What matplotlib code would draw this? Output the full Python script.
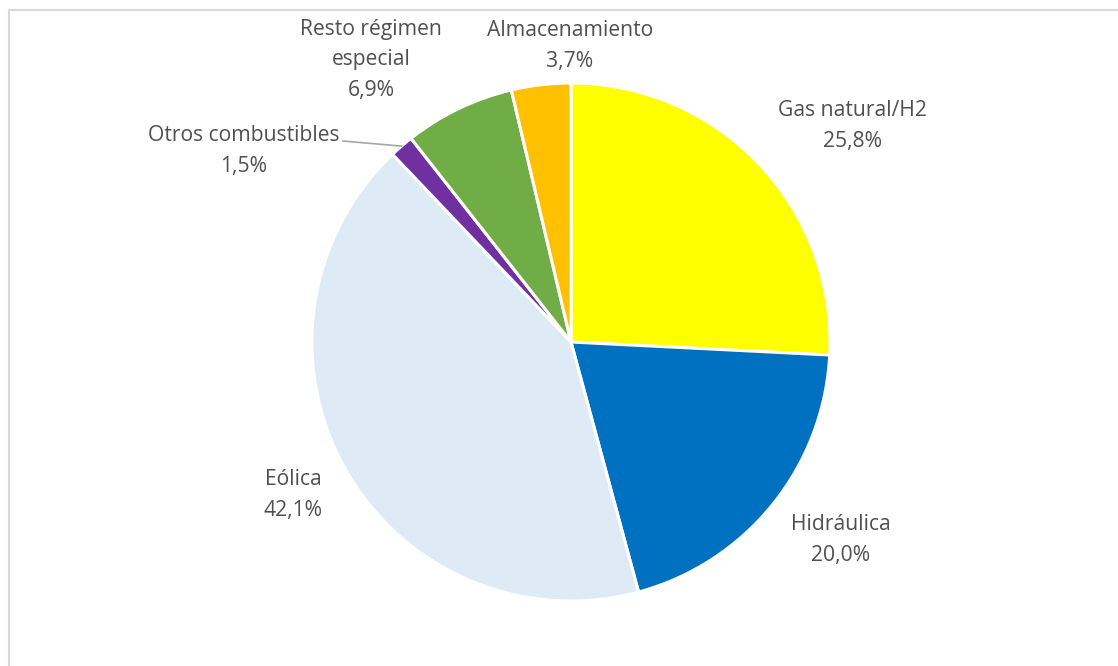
import numpy as np
import matplotlib
matplotlib.use("Agg")
import matplotlib.pyplot as plt

# Estructura de potencia instalada por tecnología (%)
tecnologias = ["Gas natural/H2", "Hidráulica", "Eólica", "Otros combustibles",
               "Resto régimen\nespecial", "Almacenamiento"]
porcentajes = [25.8, 20.0, 42.1, 1.5, 6.9, 3.7]
colores = ["#FFFF00", "#0070C0", "#DEEAF6", "#7030A0", "#70AD47", "#FFC000"]

# Posición de cada etiqueta (píxeles, origen arriba a la izquierda)
pos_etiquetas = [(852, 126), (841, 540), (293, 495), (244, 151), (371, 60), (570, 46)]

W, H = 1118, 666
fig = plt.figure(figsize=(W / 100, H / 100), dpi=100)
ax = fig.add_axes([0, 0, 1, 1])

cx, cy, r = 571, H - 342, 259
cuñas, _ = ax.pie(porcentajes, colors=colores, startangle=90, counterclock=False,
                  center=(cx, cy), radius=r,
                  wedgeprops=dict(edgecolor="white", linewidth=2.2))

for nombre, valor, (px, py) in zip(tecnologias, porcentajes, pos_etiquetas):
    texto = f"{nombre}\n{valor:.1f}%".replace(".", ",")
    ax.text(px, H - py, texto, ha="center", va="center", multialignment="center",
            fontsize=15.2, color="#505050", family="Open Sans", linespacing=1.62)

# Línea guía para "Otros combustibles"
w = cuñas[3]
ang = np.deg2rad((w.theta1 + w.theta2) / 2)
ax.plot([343, cx + r * np.cos(ang)], [H - 141, cy + r * np.sin(ang)],
        color="#A6A6A6", lw=1.2)

# Marco del gráfico
ax.plot([9, 9, W], [0, H - 10, H - 10], color="#D9D9D9", lw=1.5)

ax.set_xlim(0, W)
ax.set_ylim(0, H)
ax.axis("off")

fig.savefig("out.png", dpi=100)
